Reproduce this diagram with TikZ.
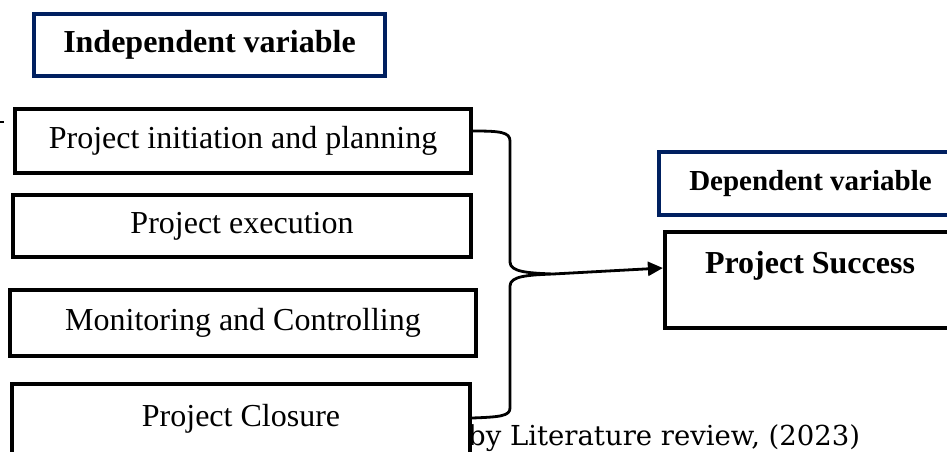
\documentclass[tikz,border=0pt]{standalone}
\usepackage{fontspec}
\setmainfont{Liberation Serif}
\newfontfamily\capfont{DejaVu Serif}
\usetikzlibrary{arrows.meta,calc}
\definecolor{navy}{RGB}{0,32,96}
\begin{document}
\begin{tikzpicture}[x=1pt,y=-1pt,
  varbox/.style={draw=navy, line width=3.5pt, fill=white, inner sep=0pt, font=\bfseries},
  stagebox/.style={draw=black, line width=4.2pt, fill=white, inner sep=0pt, font=\fontsize{32}{38}\selectfont},
  bracket/.style={draw=black, line width=2.8pt, line cap=round, line join=round},
  arr/.style={draw=black, line width=2.8pt, -{Triangle[length=15pt,width=14pt]}}]
\useasboundingbox (0,0) rectangle (947,452);
% caption (partly hidden behind last box)
\node[anchor=base west, inner sep=0pt, font=\capfont\fontsize{27.5}{32}\selectfont] (cap) at (468,445) {by Literature review, (2023)};
% tiny mark at left
\coordinate (m1) at (0,122);
\coordinate (m2) at (4,122);
\draw[line width=1.4pt] (m1) -- (m2);
% headers
\node[varbox, minimum width=351pt, minimum height=62pt, font=\bfseries\fontsize{32}{38}\selectfont] (iv) at (209.5,45) {Independent variable};
\node[varbox, minimum width=303pt, minimum height=63pt, font=\bfseries\fontsize{29}{35}\selectfont] (dv) at (810.5,183.5) {Dependent variable};
% stage boxes
\node[stagebox, minimum width=456pt, minimum height=64pt] (b1) at (243,141) {Project initiation and planning};
\node[stagebox, minimum width=458pt, minimum height=62pt] (b2) at (242,226) {Project execution};
\node[stagebox, minimum width=466pt, minimum height=66pt] (b3) at (243,323) {Monitoring and Controlling};
\node[stagebox, minimum width=458pt, minimum height=72pt, text depth=9pt] (b4) at (241,420) {Project Closure};
% outcome
\node[stagebox, minimum width=290pt, minimum height=96pt, align=center, font=\bfseries\fontsize{32}{38}\selectfont] (ps) at (810,280) {Project Success\\[-2pt]\mbox{}};
% bracket
\coordinate (tip) at (553,274);
\draw[bracket] ([yshift=10pt]b1.east) .. controls (500,131) and (510,132) .. (510,141)
  -- (510,262) .. controls (510,272) and (528,273) .. (tip)
  .. controls (528,275) and (510,276) .. (510,286)
  -- (510,408) .. controls (510,416) and (500,417) .. ([yshift=2pt]b4.east);
% arrow
\draw[arr] (tip) -- ([yshift=12pt]ps.west);
\end{tikzpicture}
\end{document}
